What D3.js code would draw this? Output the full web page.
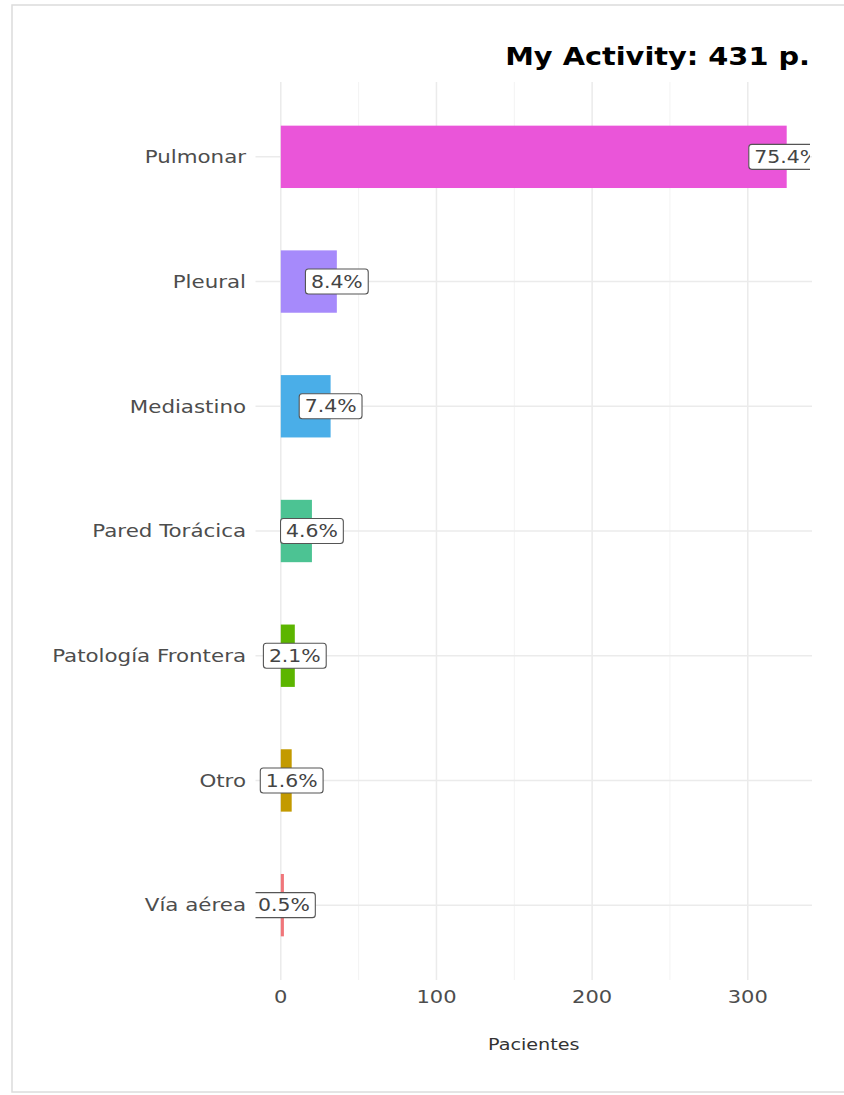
<!DOCTYPE html>
<html><head><meta charset="utf-8">
<script src="https://cdn.jsdelivr.net/npm/d3@7"></script>
<style>body{margin:0;background:#fff}svg{display:block}text{font-family:"DejaVu Sans",sans-serif}</style>
</head><body>
<script>
const categories = ["Pulmonar","Pleural","Mediastino","Pared Torácica","Patología Frontera","Otro","Vía aérea"];
const patients = [325,36,32,20,9,7,2];
const percentLabels = ["75.4%","8.4%","7.4%","4.6%","2.1%","1.6%","0.5%"];
const colors = ["#EA55D9","#A68AFB","#4AAEE8","#4CC393","#5CB500","#C39A00","#F0767A"];
const xTicks = [0,100,200,300];
const xMinor = [50,150,250];
const title = "My Activity: 431 p.";
const xTitle = "Pacientes";

(function(){
const W=844,H=1095,SX=1.2;
const svg=d3.select("body").append("svg").attr("width",W).attr("height",H);
svg.append("rect").attr("x",12).attr("y",5).attr("width",W).attr("height",1087)
  .attr("fill","#fff").attr("stroke","#dcdcdc").attr("stroke-width",1.5);

const pL=255.5,pR=812,pT=82,pB=980;
const maxV=d3.max(patients);
const x=d3.scaleLinear().domain([-0.05*maxV,maxV*1.05]).range([pL,pR]);
const stepY=(pB-pT)/7.2;
const yc=d3.scalePoint().domain(categories).range([pT+0.6*stepY,pB-0.6*stepY]);
const bw=stepY*0.5;

const g=svg.append("g");
g.selectAll(".minor").data(xMinor).join("line")
  .attr("x1",d=>x(d)).attr("x2",d=>x(d)).attr("y1",pT).attr("y2",pB)
  .attr("stroke","#f3f3f3").attr("stroke-width",1);
g.selectAll(".major").data(xTicks).join("line")
  .attr("x1",d=>x(d)).attr("x2",d=>x(d)).attr("y1",pT).attr("y2",pB)
  .attr("stroke","#ebebeb").attr("stroke-width",1.5);
g.selectAll(".hg").data(categories).join("line")
  .attr("x1",pL).attr("x2",pR).attr("y1",d=>yc(d)).attr("y2",d=>yc(d))
  .attr("stroke","#ebebeb").attr("stroke-width",1.5);

svg.append("clipPath").attr("id","pc").append("rect")
  .attr("x",pL).attr("y",pT).attr("width",pR-pL-2).attr("height",pB-pT);
const pg=svg.append("g").attr("clip-path","url(#pc)");

pg.selectAll(".bar").data(categories).join("rect")
  .attr("x",x(0)).attr("y",d=>yc(d)-bw/2)
  .attr("width",(d,i)=>x(patients[i])-x(0)).attr("height",bw)
  .attr("fill",(d,i)=>colors[i]);

const lab=pg.selectAll(".lab").data(categories).join("g")
  .attr("transform",(d,i)=>`translate(${x(patients[i])},${yc(d)})`);
lab.append("text").attr("text-anchor","middle").attr("dy","0.36em")
  .attr("transform",`scale(${SX},1)`)
  .attr("font-size",17).attr("fill","#444").text((d,i)=>percentLabels[i])
  .each(function(){
    const w=this.getComputedTextLength()*SX;
    d3.select(this.parentNode).insert("rect","text")
      .attr("x",-w/2-5.5).attr("y",-12.5).attr("width",w+11).attr("height",25)
      .attr("rx",3).attr("fill","#fff").attr("stroke","#555").attr("stroke-width",1.1);
  });

function sText(px,py,str,size,anchor,fill,weight){
  return svg.append("text").attr("transform",`translate(${px},${py}) scale(${SX},1)`)
    .attr("text-anchor",anchor).attr("font-size",size).attr("fill",fill)
    .attr("font-weight",weight||"normal").text(str);
}
categories.forEach(c=>sText(246,yc(c)+6.3,c,17.8,"end","#4d4d4d"));
xTicks.forEach(t=>sText(x(t),1003,t,17.5,"middle","#4d4d4d"));
sText((pL+pR)/2,1050,xTitle,16,"middle","#333");
sText(810,65,title,24,"end","#000","bold");
})();
</script>
</body></html>
